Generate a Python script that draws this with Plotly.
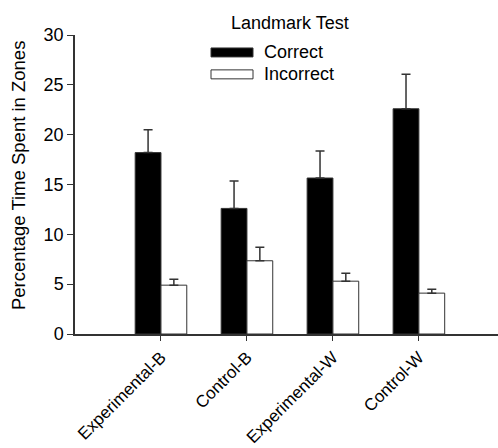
import plotly.graph_objects as go

groups = ["Experimental-B", "Control-B", "Experimental-W", "Control-W"]
correct = [18.2, 12.6, 15.65, 22.6]
correct_err = [2.3, 2.75, 2.7, 3.45]
incorrect = [4.9, 7.35, 5.3, 4.1]
incorrect_err = [0.6, 1.35, 0.8, 0.4]
y_ticks = [0, 5, 10, 15, 20, 25, 30]

FONT = "Arial, Liberation Sans, sans-serif"

# plot area in pixels
L, T, B = 75, 34.5, 334.5
W, H = 498 - L, B - T

fig = go.Figure()
fig.add_trace(go.Bar(
    name="Correct", x=groups, y=correct,
    marker=dict(color="black", line=dict(color="#333333", width=1)),
    error_y=dict(type="data", array=correct_err, arrayminus=[0] * 4,
                 symmetric=False, color="#333333", thickness=1.5, width=4.5),
))
fig.add_trace(go.Bar(
    name="Incorrect", x=groups, y=incorrect,
    marker=dict(color="white", line=dict(color="#333333", width=1)),
    error_y=dict(type="data", array=incorrect_err, arrayminus=[0] * 4,
                 symmetric=False, color="#333333", thickness=1.5, width=4.5),
))

fig.update_layout(
    width=498, height=448,
    margin=dict(l=L, r=0, t=T, b=448 - B),
    paper_bgcolor="white", plot_bgcolor="white",
    barmode="group", bargap=0.4, bargroupgap=0,
    showlegend=False,
    font=dict(family=FONT, size=18, color="black"),
)
fig.update_xaxes(
    range=[-1.0, 3.92], showline=True, linecolor="#333333", linewidth=1.5,
    ticks="outside", ticklen=5, tickcolor="#333333", tickwidth=1,
    tickangle=-45, tickfont=dict(size=17), showgrid=False, zeroline=False,
    automargin=False,
)
fig.update_yaxes(
    range=[0, 30], tickvals=y_ticks, showline=True, linecolor="#333333",
    linewidth=1.5, ticks="outside", ticklen=6, tickcolor="#333333",
    tickfont=dict(size=18), showgrid=False, zeroline=False, automargin=False,
)

def px_x(x):
    return (x - L) / W

def px_y(y):
    return (B - y) / H

# Axis title
fig.add_annotation(text="Percentage Time Spent in Zones", xref="paper", yref="paper",
                   x=px_x(18), y=px_y(176), textangle=-90, showarrow=False,
                   font=dict(size=18.5), xanchor="center", yanchor="middle")

# Legend drawn by hand: title, wide swatches and labels
fig.add_annotation(text="Landmark Test", xref="paper", yref="paper",
                   x=px_x(290), y=px_y(22), showarrow=False,
                   font=dict(size=18), xanchor="center", yanchor="middle")
for i, (label, fill) in enumerate([("Correct", "black"), ("Incorrect", "white")]):
    yc = 52 + i * 22
    fig.add_shape(type="rect", xref="paper", yref="paper",
                  x0=px_x(211), x1=px_x(253),
                  y0=px_y(yc + 4.5), y1=px_y(yc - 4.5),
                  fillcolor=fill, line=dict(color="#333333", width=1))
    fig.add_annotation(text=label, xref="paper", yref="paper",
                       x=px_x(262), y=px_y(yc), showarrow=False,
                       font=dict(size=18), xanchor="left", yanchor="middle")

fig.write_html("out.html")
